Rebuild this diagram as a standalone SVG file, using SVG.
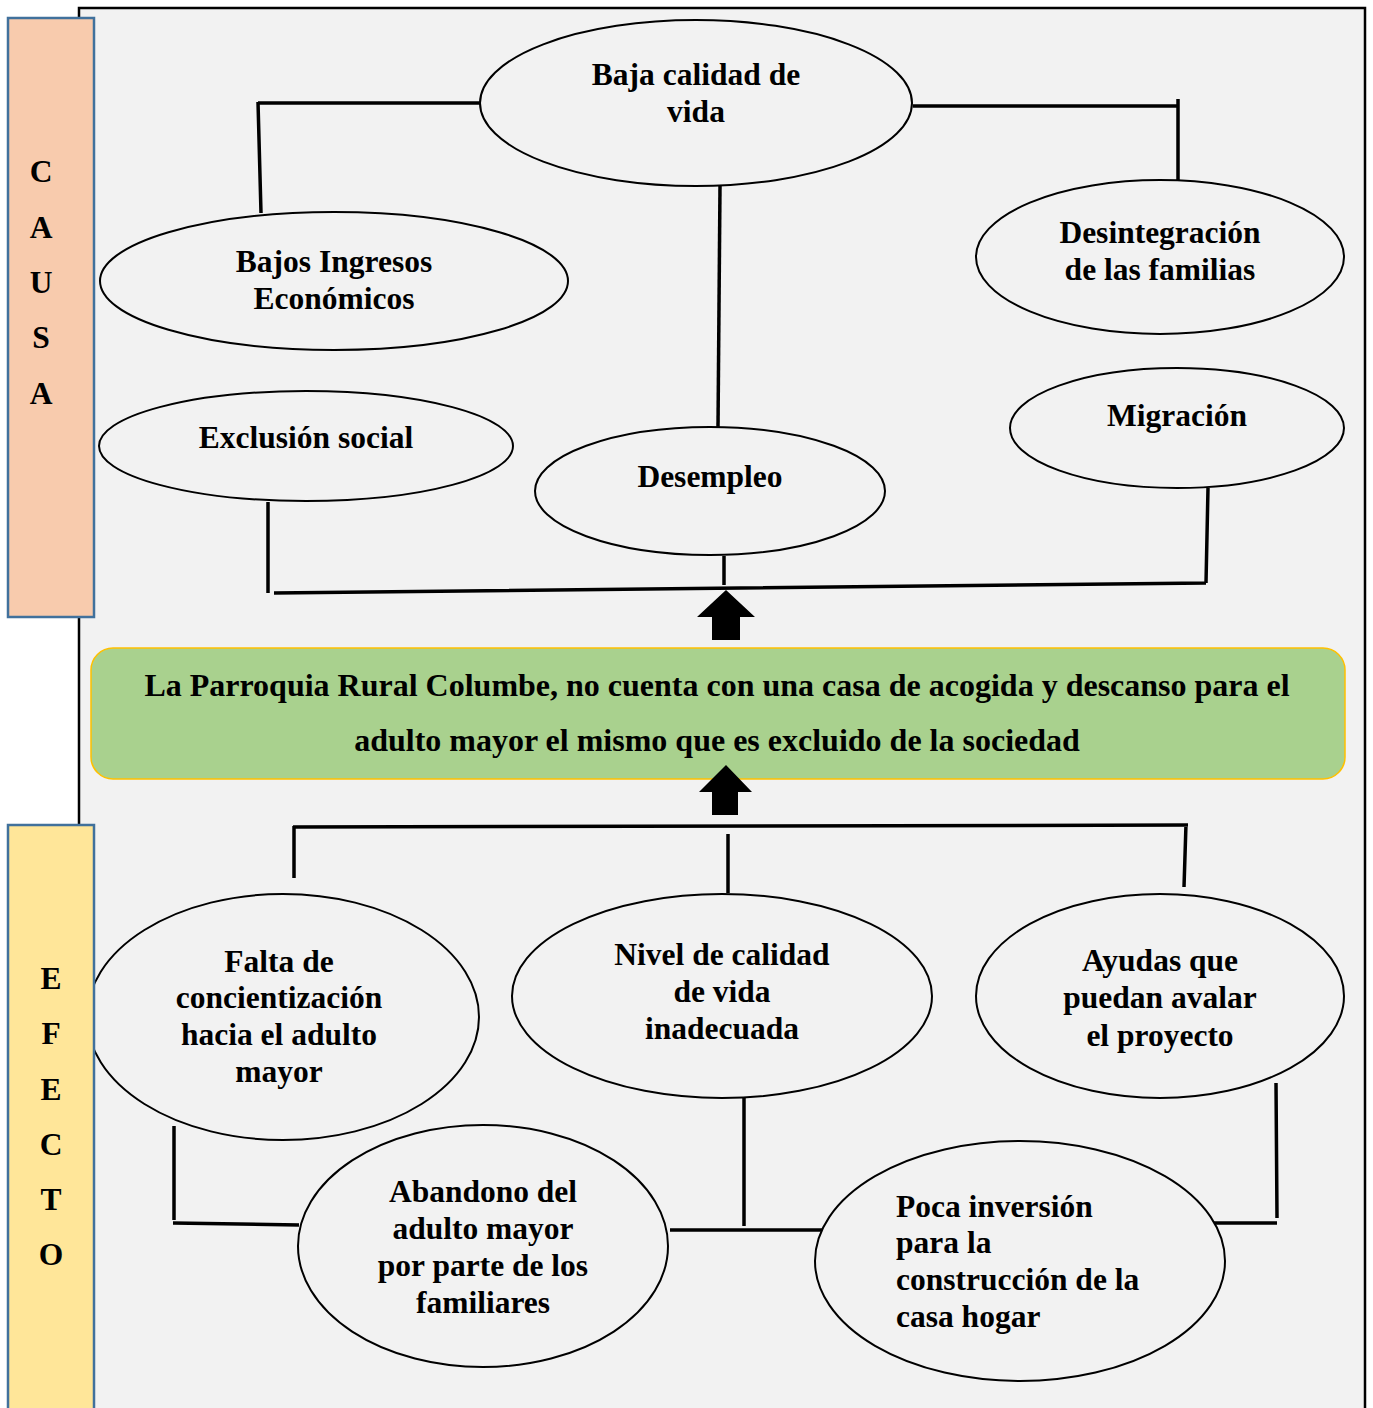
<svg xmlns="http://www.w3.org/2000/svg" width="1373" height="1408" viewBox="0 0 1373 1408">
<style>
.t{font-family:"Liberation Serif","Times New Roman",serif;font-weight:bold;font-size:31.5px;fill:#000;text-anchor:middle}
.g{font-size:32px}
.l{text-anchor:start}
.e{fill:#f2f2f2;stroke:#000;stroke-width:2}
.c{stroke:#000;stroke-width:3.5;fill:none;stroke-linecap:butt}
.side{stroke:#41719c;stroke-width:2.5}
</style>
<rect x="0" y="0" width="1373" height="1408" fill="#fff"/>
<rect id="panel" x="79" y="8" width="1286" height="1420" fill="#f2f2f2" stroke="#000" stroke-width="2.5"/>

<g id="connectors">
  <path class="c" d="M258,103 H480 M258,102 L261,213"/>
  <path class="c" d="M913,106 H1179 M1178,99 V181"/>
  <path class="c" d="M720,186 L718,427"/>
  <path class="c" d="M274,593 L1206,583 M268,502 V593 M724,556 V585 M1208,488 L1206,583"/>
  <path class="c" d="M293,827 L1188,825 M294,826 V878 M728,834 V893 M1186,824 L1184,887"/>
  <path class="c" d="M174,1126 V1220 M173,1223 L299,1225"/>
  <path class="c" d="M744,1098 V1226 M670,1230 H830"/>
  <path class="c" d="M1276,1083 L1277,1218 M1213,1223 H1277"/>
</g>

<g id="n-baja"><ellipse class="e" cx="696" cy="103" rx="216" ry="83"/>
<text class="t" x="696" y="85">Baja calidad de</text><text class="t" x="696" y="122">vida</text></g>
<g id="n-bajos"><ellipse class="e" cx="334" cy="281" rx="234" ry="69"/>
<text class="t" x="334" y="272">Bajos Ingresos</text><text class="t" x="334" y="309">Económicos</text></g>
<g id="n-desint"><ellipse class="e" cx="1160" cy="257" rx="184" ry="77"/>
<text class="t" x="1160" y="243">Desintegración</text><text class="t" x="1160" y="280">de las familias</text></g>
<g id="n-exclusion"><ellipse class="e" cx="306" cy="446" rx="207" ry="55"/>
<text class="t" x="306" y="448">Exclusión social</text></g>
<g id="n-desempleo"><ellipse class="e" cx="710" cy="491" rx="175" ry="64"/>
<text class="t" x="710" y="487">Desempleo</text></g>
<g id="n-migracion"><ellipse class="e" cx="1177" cy="428" rx="167" ry="60"/>
<text class="t" x="1177" y="426">Migración</text></g>

<g id="n-problema"><rect x="91" y="648" width="1254" height="131" rx="22" fill="#a9d18e" stroke="#ffc000" stroke-width="1.5"/>
<text class="t g" x="717" y="696">La Parroquia Rural Columbe, no cuenta con una casa de acogida y descanso para el</text>
<text class="t g" x="717" y="751">adulto mayor el mismo que es excluido de la sociedad</text></g>

<g id="arrows">
  <polygon points="726,590 755,617 740,617 740,640 712,640 712,617 697,617" fill="#000"/>
  <polygon points="726,765 752,792 738,792 738,815 712,815 712,792 699,792" fill="#000"/>
</g>

<g id="n-falta"><ellipse class="e" cx="283" cy="1017" rx="196" ry="123"/>
<text class="t" x="279" y="972">Falta de</text><text class="t" x="279" y="1008">concientización</text><text class="t" x="279" y="1045">hacia el adulto</text><text class="t" x="279" y="1082">mayor</text></g>
<g id="n-nivel"><ellipse class="e" cx="722" cy="996" rx="210" ry="102"/>
<text class="t" x="722" y="965">Nivel de calidad</text><text class="t" x="722" y="1002">de vida</text><text class="t" x="722" y="1039">inadecuada</text></g>
<g id="n-ayudas"><ellipse class="e" cx="1160" cy="996" rx="184" ry="102"/>
<text class="t" x="1160" y="971">Ayudas que</text><text class="t" x="1160" y="1008">puedan avalar</text><text class="t" x="1160" y="1046">el proyecto</text></g>
<g id="n-abandono"><ellipse class="e" cx="483" cy="1246" rx="185" ry="121"/>
<text class="t" x="483" y="1202">Abandono del</text><text class="t" x="483" y="1239">adulto mayor</text><text class="t" x="483" y="1276">por parte de los</text><text class="t" x="483" y="1313">familiares</text></g>
<g id="n-poca"><ellipse class="e" cx="1020" cy="1261" rx="205" ry="120"/>
<text class="t l" x="896" y="1217">Poca inversión</text><text class="t l" x="896" y="1253">para la</text><text class="t l" x="896" y="1290">construcción de la</text><text class="t l" x="896" y="1327">casa hogar</text></g>

<g id="causa"><rect class="side" x="8" y="18" width="86" height="599" fill="#f8cbad"/>
<text class="t" x="41" y="182">C</text><text class="t" x="41" y="238">A</text><text class="t" x="41" y="293">U</text><text class="t" x="41" y="348">S</text><text class="t" x="41" y="404">A</text></g>
<g id="efecto"><rect class="side" x="8" y="825" width="86" height="600" fill="#ffe699"/>
<text class="t" x="51" y="989">E</text><text class="t" x="51" y="1044">F</text><text class="t" x="51" y="1100">E</text><text class="t" x="51" y="1155">C</text><text class="t" x="51" y="1210">T</text><text class="t" x="51" y="1265">O</text></g>
</svg>
